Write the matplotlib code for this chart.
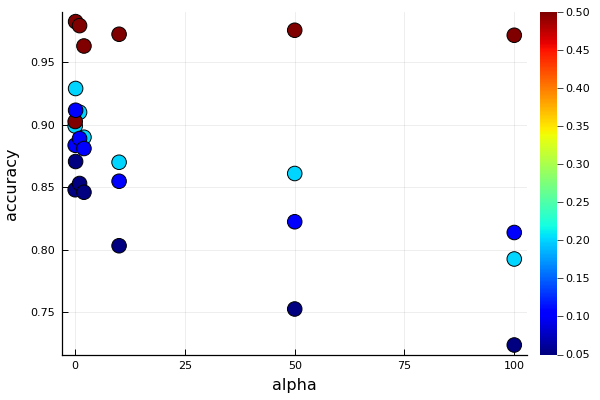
import matplotlib
matplotlib.use("Agg")
import matplotlib.pyplot as plt
import numpy as np

# data
alphas = [0, 0.1, 1, 2, 10, 50, 100]
gammas = [0.2, 0.5, 0.1, 0.05]
acc_g020 = [0.899, 0.929, 0.910, 0.890, 0.870, 0.861, 0.7926]
acc_g050 = [0.9026, 0.9825, 0.9793, 0.963, 0.9724, 0.9756, 0.9716]
acc_g010 = [0.8836, 0.9116, 0.889, 0.881, 0.8548, 0.8224, 0.8138]
acc_g005 = [0.848, 0.8706, 0.853, 0.846, 0.8032, 0.7526, 0.7238]
acc_by_gamma = [acc_g020, acc_g050, acc_g010, acc_g005]
cbar_ticks = [0.05, 0.10, 0.15, 0.20, 0.25, 0.30, 0.35, 0.40, 0.45, 0.50]
xticks = [0, 25, 50, 75, 100]
yticks = [0.75, 0.80, 0.85, 0.90, 0.95]

x = []
y = []
c = []
for g, accs in zip(gammas, acc_by_gamma):
    x += alphas
    y += accs
    c += [g] * len(alphas)

fig = plt.figure(figsize=(6, 4), dpi=100)
ax = fig.add_axes([62/600, 1 - 354.5/400, (527-62)/600, (354.5-12)/400])
cax = fig.add_axes([540/600, 1 - 354.5/400, 17/600, (354.5-12)/400])

sc = ax.scatter(x, y, c=c, cmap="jet", vmin=0.05, vmax=0.5, s=110,
                edgecolors="black", linewidths=0.7, zorder=3)

ax.set_xlim(-3.0, 102.9)
ax.set_ylim(0.7162, 0.9902)
ax.set_xticks(xticks)
ax.set_yticks(yticks)
ax.set_yticklabels([f"{v:.2f}" for v in yticks])
ax.grid(True, color="black", alpha=0.08, linewidth=0.6)
ax.set_axisbelow(True)
for s in ["top", "right"]:
    ax.spines[s].set_visible(False)
for s in ["left", "bottom"]:
    ax.spines[s].set_linewidth(0.9)
ax.tick_params(direction="in", length=4, width=0.7, labelsize=8, pad=5)
ax.set_xlabel("alpha", fontsize=11.5, labelpad=5)
ax.set_ylabel("accuracy", fontsize=11.5, labelpad=8)

cb = fig.colorbar(sc, cax=cax)
cb.set_ticks(cbar_ticks)
cb.set_ticklabels([f"{v:.2f}" for v in cbar_ticks])
cb.outline.set_visible(False)
cax.tick_params(direction="out", length=4, width=0.7, labelsize=8, pad=2, color="#444444")

fig.savefig("out.png", dpi=100)
